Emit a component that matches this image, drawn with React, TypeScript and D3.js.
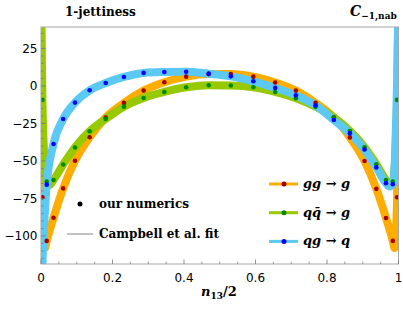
import React, { useRef, useEffect } from 'react';
import * as d3 from 'd3';

// sample points (n13/2) where the numerics were evaluated
const xs = [0.004, 0.016, 0.035, 0.062, 0.095, 0.136, 0.181, 0.232, 0.287, 0.345, 0.406, 0.469,
    0.531, 0.594, 0.655, 0.713, 0.768, 0.819, 0.864, 0.905, 0.938, 0.965, 0.984, 0.996];

// our numerics
const ggToG = [-74.2, -103.3, -87.9, -68.3, -49.9, -34.2, -21.1, -11.3, -3.1, 2.5, 6.2, 7.9,
    7.9, 6.2, 2.3, -3.1, -11.3, -21, -34.3, -50, -68.6, -88, -103.3, -74.2];
const qqbarToG = [-9.3, -63.8, -62.7, -52.4, -41, -30.2, -22, -13.8, -8, -4, -0.9, 0.5,
    0.3, -0.9, -4, -8.2, -13.8, -20.9, -30, -40.9, -52.2, -62.7, -63.8, -9.3];
const qgToQ = [null, -65.8, -38.7, -22, -11.1, -2.9, 2, 6, 8.7, 9.3, 9.5, 8.2,
    6.4, 3.1, -1.3, -6.2, -13, -22.7, -31.6, -42.4, -54.3, -64.8, -65.5, null];

// fit curve near the endpoints (where it runs off the plot)
const ggFitEdges = [[0.0006, 48], [0.002, -25], [0.008, -100], [0.011, -108],
    [0.989, -108], [0.992, -100], [0.998, -25], [0.9994, 48]];
const qqbarFitEdges = [[0.0006, 48], [0.002, 25], [0.008, -42], [0.012, -58], [0.024, -66],
    [0.976, -66], [0.988, -58], [0.992, -42], [0.998, 25], [0.9994, 48]];
const qgFitEdges = [[0.001, -140], [0.005, -112], [0.009, -92],
    [0.975, -67], [0.99, -48], [0.994, -18], [0.997, 15], [0.9994, 50]];

const xTicks = [0, 0.2, 0.4, 0.6, 0.8, 1];
const xTickLabels = ['0', '0.2', '0.4', '0.6', '0.8', '1'];
const yTicks = [-100, -75, -50, -25, 0, 25];
const yTickLabels = ['\u2212100', '\u221275', '\u221250', '\u221225', '0', '25'];

const series = [
    { name: 'gg', label: 'gg \u2192 g', values: ggToG, edges: ggFitEdges, band: '#ffad00', dot: '#a50000' },
    { name: 'qqbar', label: 'qq\u0304 \u2192 g', values: qqbarToG, edges: qqbarFitEdges, band: '#97c900', dot: '#008a00' },
    { name: 'qg', label: 'qg \u2192 q', values: qgToQ, edges: qgFitEdges, band: '#5cc9f5', dot: '#0000ff' },
];

const W = 403, H = 312;
const left = 41, right = 398.5, top = 27, bottom = 264;

const App = () => {
    const svgRef = useRef<SVGSVGElement>(null);

    useEffect(() => {
        const svg = d3.select(svgRef.current);
        svg.selectAll('*').remove();

        const x = d3.scaleLinear().domain([0, 1]).range([left, right]);
        const y = d3.scaleLinear().domain([-118.7, 39.3]).range([bottom, top]);

        svg.append('defs').append('clipPath').attr('id', 'plotclip')
            .append('rect').attr('x', left).attr('y', top).attr('width', right - left).attr('height', bottom - top);

        const plot = svg.append('g').attr('clip-path', 'url(#plotclip)');
        const line = d3.line<number[]>().x(d => x(d[0])).y(d => y(d[1])).curve(d3.curveMonotoneX);

        // fit bands
        series.forEach(s => {
            const pts = xs.map((v, i) => [v, s.values[i]]).filter(d => d[1] !== null) as number[][];
            const all = pts.concat(s.edges).sort((a, b) => a[0] - b[0]);
            plot.append('path').datum(all)
                .attr('d', line)
                .attr('fill', 'none')
                .attr('stroke', s.band)
                .attr('stroke-width', 8)
                .attr('stroke-linejoin', 'round');
        });

        // numerics
        series.forEach(s => {
            const pts = xs.map((v, i) => [v, s.values[i]]).filter(d => d[1] !== null) as number[][];
            plot.selectAll('.dot-' + s.name).data(pts).join('circle')
                .attr('class', 'dot-' + s.name)
                .attr('cx', d => x(d[0])).attr('cy', d => y(d[1]))
                .attr('r', 2.3).attr('fill', s.dot);
        });

        // frame
        svg.append('rect').attr('x', left).attr('y', top).attr('width', right - left).attr('height', bottom - top)
            .attr('fill', 'none').attr('stroke', '#a6a6a6').attr('stroke-width', 1);

        const tickColor = '#777';
        // y ticks
        const yMinor = d3.range(-115, 40, 5).filter(v => !yTicks.includes(v));
        svg.selectAll('.ymin').data(yMinor).join('line').attr('class', 'ymin')
            .attr('x1', left).attr('x2', left + 2.5).attr('y1', d => y(d)).attr('y2', d => y(d))
            .attr('stroke', tickColor).attr('stroke-width', 0.7);
        svg.selectAll('.ymaj').data(yTicks).join('line').attr('class', 'ymaj')
            .attr('x1', left).attr('x2', left + 4.5).attr('y1', d => y(d)).attr('y2', d => y(d))
            .attr('stroke', tickColor).attr('stroke-width', 0.8);
        svg.selectAll('.ylab').data(yTicks).join('text').attr('class', 'ylab')
            .attr('x', 37.5).attr('y', d => y(d)).attr('dy', '0.36em')
            .attr('text-anchor', 'end').attr('font-family', 'DejaVu Sans').attr('font-size', 12)
            .attr('fill', '#000').text((d, i) => yTickLabels[i]);

        // x ticks
        const xMinor = d3.range(0.05, 1, 0.05).filter(v => !xTicks.some(t => Math.abs(t - v) < 1e-6));
        svg.selectAll('.xmin').data(xMinor).join('line').attr('class', 'xmin')
            .attr('x1', d => x(d)).attr('x2', d => x(d)).attr('y1', bottom).attr('y2', bottom - 2.5)
            .attr('stroke', tickColor).attr('stroke-width', 0.7);
        svg.selectAll('.xmaj').data(xTicks).join('line').attr('class', 'xmaj')
            .attr('x1', d => x(d)).attr('x2', d => x(d)).attr('y1', bottom).attr('y2', bottom - 4.5)
            .attr('stroke', tickColor).attr('stroke-width', 0.8);
        svg.selectAll('.xlab').data(xTicks).join('text').attr('class', 'xlab')
            .attr('x', d => x(d)).attr('y', 281.5)
            .attr('text-anchor', 'middle').attr('font-family', 'DejaVu Sans').attr('font-size', 12)
            .attr('fill', '#000').text((d, i) => xTickLabels[i]);

        // x axis label
        const xl = svg.append('text').attr('x', 219).attr('y', 296).attr('text-anchor', 'middle')
            .attr('font-family', 'DejaVu Serif').attr('font-weight', 'bold').attr('font-size', 13);
        xl.append('tspan').attr('font-style', 'italic').text('n');
        xl.append('tspan').attr('font-size', 9).attr('dy', 3).text('13');
        xl.append('tspan').attr('dy', -3).text('/2');

        // titles
        svg.append('text').attr('x', 65).attr('y', 16).attr('font-family', 'DejaVu Serif')
            .attr('font-weight', 'bold').attr('font-size', 12).text('1-jettiness');
        const ct = svg.append('text').attr('x', 350).attr('y', 16).attr('font-family', 'DejaVu Serif')
            .attr('font-weight', 'bold').attr('font-size', 14);
        ct.append('tspan').attr('font-style', 'italic').text('C');
        ct.append('tspan').attr('font-size', 9).attr('dy', 3).text('\u22121,nab');

        // left legend
        svg.append('circle').attr('cx', 80).attr('cy', 204).attr('r', 2.5).attr('fill', '#000');
        svg.append('text').attr('x', 99).attr('y', 208).attr('font-family', 'DejaVu Serif')
            .attr('font-size', 12).attr('font-weight', 'bold').text('our numerics');
        svg.append('line').attr('x1', 67).attr('x2', 93).attr('y1', 234).attr('y2', 234)
            .attr('stroke', '#666').attr('stroke-width', 0.8);
        svg.append('text').attr('x', 99).attr('y', 238).attr('font-family', 'DejaVu Serif')
            .attr('font-size', 12).attr('font-weight', 'bold').text('Campbell et al. fit');

        // right legend
        const leg = svg.selectAll('.leg').data(series).join('g').attr('class', 'leg')
            .attr('transform', (d, i) => `translate(0, ${184 + i * 28.7})`);
        leg.append('line').attr('x1', 269).attr('x2', 298).attr('y1', 0).attr('y2', 0)
            .attr('stroke', d => d.band).attr('stroke-width', 3);
        leg.append('circle').attr('cx', 284).attr('cy', 0).attr('r', 2.5).attr('fill', d => d.dot);
        leg.append('text').attr('x', 303).attr('y', 4).attr('font-family', 'DejaVu Serif')
            .attr('font-style', 'italic').attr('font-weight', 'bold').attr('font-size', 13)
            .text(d => d.label);
    }, []);

    return (
        <svg ref={svgRef} width={W} height={H}
            style={{ position: 'absolute', left: 0, top: 0, background: '#fff' }} />
    );
};

export default App;
